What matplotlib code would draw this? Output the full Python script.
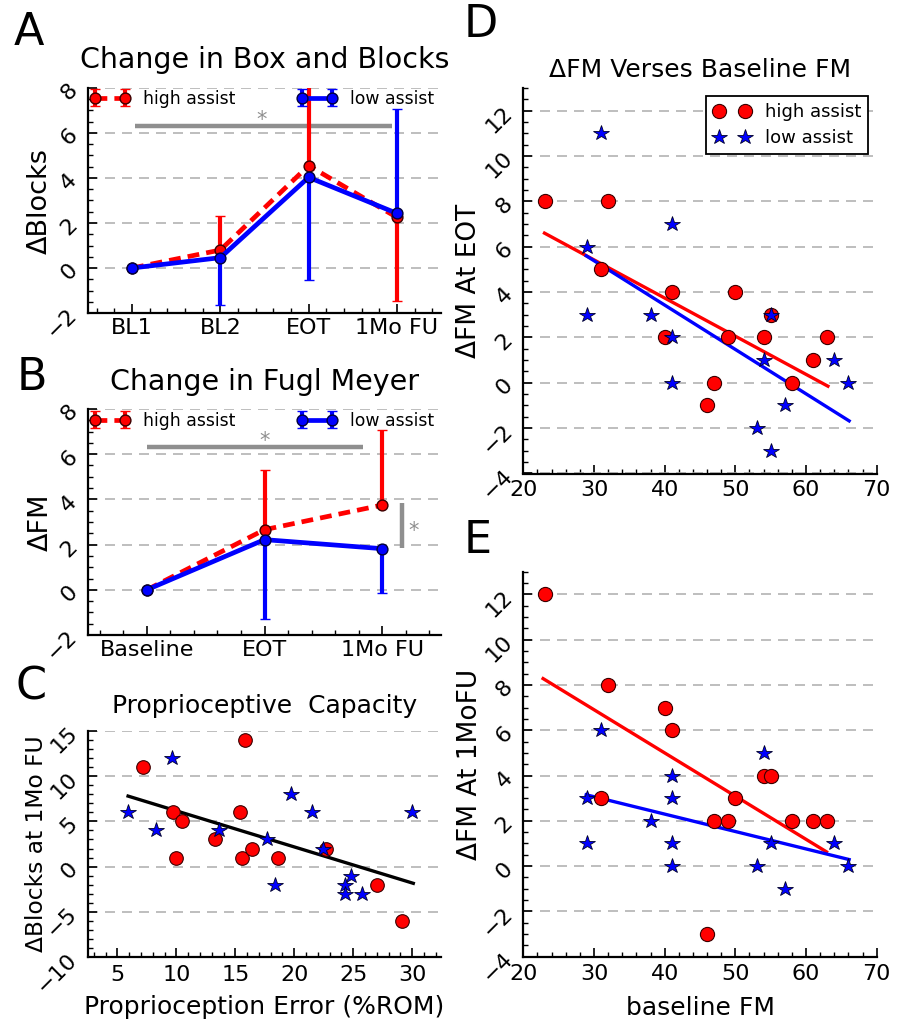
import numpy as np
import matplotlib
matplotlib.use('Agg')
import matplotlib.pyplot as plt
from matplotlib.ticker import MultipleLocator, AutoMinorLocator, FixedLocator

# ---------------- data ----------------
# Panel A: change in Box and Blocks
a_labels = ['BL1', 'BL2', 'EOT', '1Mo FU']
a_high = [0.0, 0.8, 4.55, 2.25]
a_high_err_lo = [0.0, 0.0, 0.0, 3.7]
a_high_err_hi = [0.0, 1.5, 3.6, 0.0]
a_low = [0.0, 0.46, 4.03, 2.43]
a_low_err_lo = [0.0, 2.1, 4.55, 0.0]
a_low_err_hi = [0.0, 0.0, 0.0, 4.65]

# Panel B: change in Fugl Meyer
b_labels = ['Baseline', 'EOT', '1Mo FU']
b_high = [0.0, 2.66, 3.75]
b_high_err_lo = [0.0, 0.0, 0.0]
b_high_err_hi = [0.0, 2.65, 3.34]
b_low = [0.0, 2.22, 1.82]
b_low_err_lo = [0.0, 3.51, 1.96]
b_low_err_hi = [0.0, 0.0, 0.0]

# Panel C: proprioceptive capacity
c_high_x = [7.15, 9.7, 9.97, 10.5, 13.3, 15.4, 15.6, 15.85, 16.4, 18.6, 22.7, 26.98, 29.15]
c_high_y = [11, 6, 1, 5, 3, 6, 1, 14, 2, 1, 2, -2, -6]
c_low_x = [5.93, 8.25, 9.6, 13.6, 17.7, 18.4, 19.7, 21.5, 22.45, 24.3, 24.3, 24.8, 25.75, 30.0]
c_low_y = [6, 4, 12, 4, 3, -2, 8, 6, 2, -2, -3, -1, -3, 6]
c_fit_x = [5.9, 30.1]
c_fit_y = [7.8, -1.85]

# Panel D: delta FM at EOT vs baseline FM
d_high_x = [23, 32, 31, 41, 40, 50, 49, 55, 54, 63, 61, 47, 58, 46]
d_high_y = [8, 8, 5, 4, 2, 4, 2, 3, 2, 2, 1, 0, 0, -1]
d_low_x = [31, 29, 41, 29, 38, 41, 41, 55, 54, 64, 66, 57, 53, 55]
d_low_y = [11, 6, 7, 3, 3, 2, 0, 3, 1, 1, 0, -1, -2, -3]
d_high_fit_x = [23.0, 63.1]
d_high_fit_y = [6.6, -0.15]
d_low_fit_x = [28.9, 66.1]
d_low_fit_y = [5.6, -1.68]

# Panel E: delta FM at 1MoFU vs baseline FM
e_high_x = [23, 32, 31, 40, 41, 50, 47, 49, 54, 55, 58, 61, 63, 46]
e_high_y = [12, 8, 3, 7, 6, 3, 2, 2, 4, 4, 2, 2, 2, -3]
e_low_x = [31, 29, 29, 38, 41, 41, 41, 41, 54, 55, 53, 57, 64, 66]
e_low_y = [6, 3, 1, 2, 4, 3, 1, 0, 5, 1, 0, -1, 1, 0]
e_high_fit_x = [22.8, 62.9]
e_high_fit_y = [8.28, 0.63]
e_low_fit_x = [28.9, 66.1]
e_low_fit_y = [3.15, 0.29]

# ---------------- style ----------------
W, H = 898, 1023
fig = plt.figure(figsize=(W / 100, H / 100), dpi=100)

RED = '#ff0000'
BLUE = '#0000ff'
GRAY = '#8f8f8f'
TICK_FS = 16


def px_axes(left, top, right, bottom):
    return fig.add_axes([left / W, 1 - bottom / H, (right - left) / W, (bottom - top) / H])


def style(ax, xpad=3.5):
    for s in ['top', 'right']:
        ax.spines[s].set_visible(False)
    for s in ['left', 'bottom']:
        ax.spines[s].set_linewidth(1.6)
    ax.tick_params(which='both', direction='in', top=False, right=False)
    ax.tick_params(which='major', length=6.5, width=1.2, labelsize=TICK_FS)
    ax.tick_params(which='minor', length=3.5, width=1.0)
    ax.tick_params(axis='y', labelrotation=45, pad=5)
    ax.tick_params(axis='x', pad=xpad)
    ax.yaxis.grid(True, which='major', color='#b3b3b3', lw=1.2, ls=(0, (6, 4.2)))
    ax.set_axisbelow(True)


def ylabel(ax, text, xpix, fs):
    ax.set_ylabel(text, fontsize=fs, va='center')
    l, b, w, h = ax.get_position().bounds
    ax.yaxis.set_label_coords((xpix / W - l) / w, 0.5)


line_kw = dict(lw=3.4, marker='o', ms=7.8, mew=1.0, elinewidth=3.0,
               capsize=3.4, capthick=1.6)
leg_kw = dict(fontsize=12.4, frameon=False, numpoints=2, handlelength=2.34,
              handletextpad=0.75, borderpad=0, borderaxespad=0)

# ---------------- Panel A ----------------
axA = px_axes(88, 88, 441, 313)
style(axA)
xa = np.arange(1, len(a_labels) + 1)
hA1 = axA.errorbar(xa, a_high, yerr=[a_high_err_lo, a_high_err_hi], color=RED,
                   ls=(0, (2.5, 1.5)), mfc=RED, mec='#3a0000', zorder=3, **line_kw)
hA2 = axA.errorbar(xa, a_low, yerr=[a_low_err_lo, a_low_err_hi], color=BLUE,
                   ls='-', mfc=BLUE, mec='#00003a', zorder=4, **line_kw)
axA.plot([1.03, 3.95], [6.33, 6.33], color=GRAY, lw=3.2, zorder=2.5, solid_capstyle='butt')
axA.text(2.47, 6.33, '*', color=GRAY, fontsize=15, ha='center', va='baseline')
axA.set_xlim(0.5, 4.5)
axA.set_ylim(-2, 8)
axA.set_xticks(xa)
axA.set_xticklabels(a_labels)
axA.xaxis.set_minor_locator(AutoMinorLocator(5))
axA.yaxis.set_major_locator(MultipleLocator(2))
axA.yaxis.set_minor_locator(AutoMinorLocator(4))
axA.set_title('Change in Box and Blocks', fontsize=20.5, pad=14.5)
ylabel(axA, '\u0394Blocks', 40, 19.5)
legA1 = axA.legend([hA1], ['high assist'], loc='center left',
                   bbox_to_anchor=(0.005, 0.952), **leg_kw)
axA.add_artist(legA1)
axA.legend([hA2], ['low assist'], loc='center right',
           bbox_to_anchor=(0.98, 0.952), **leg_kw)

# ---------------- Panel B ----------------
axB = px_axes(88, 409, 441, 635)
style(axB)
xb = np.arange(1, len(b_labels) + 1)
hB1 = axB.errorbar(xb, b_high, yerr=[b_high_err_lo, b_high_err_hi], color=RED,
                   ls=(0, (2.5, 1.5)), mfc=RED, mec='#3a0000', zorder=3, **line_kw)
hB2 = axB.errorbar(xb, b_low, yerr=[b_low_err_lo, b_low_err_hi], color=BLUE,
                   ls='-', mfc=BLUE, mec='#00003a', zorder=4, **line_kw)
axB.plot([1.0, 2.84], [6.3, 6.3], color=GRAY, lw=3.2, zorder=2.5, solid_capstyle='butt')
axB.text(2.0, 6.3, '*', color=GRAY, fontsize=15, ha='center', va='baseline')
axB.plot([3.17, 3.17], [1.85, 3.84], color=GRAY, lw=3.2, zorder=2.5, solid_capstyle='butt')
axB.text(3.27, 2.32, '*', color=GRAY, fontsize=15, ha='center', va='baseline')
axB.set_xlim(0.5, 3.5)
axB.set_ylim(-2, 8)
axB.set_xticks(xb)
axB.set_xticklabels(b_labels)
axB.xaxis.set_minor_locator(AutoMinorLocator(5))
axB.yaxis.set_major_locator(MultipleLocator(2))
axB.yaxis.set_minor_locator(AutoMinorLocator(4))
axB.set_title('Change in Fugl Meyer', fontsize=20.5, pad=13.5)
ylabel(axB, '\u0394FM', 41, 19.5)
legB1 = axB.legend([hB1], ['high assist'], loc='center left',
                   bbox_to_anchor=(0.005, 0.948), **leg_kw)
axB.add_artist(legB1)
axB.legend([hB2], ['low assist'], loc='center right',
           bbox_to_anchor=(0.98, 0.948), **leg_kw)

# ---------------- Panel C ----------------
axC = px_axes(88, 731, 441, 957)
style(axC, xpad=6)
axC.plot(c_fit_x, c_fit_y, color='black', lw=2.4, zorder=2)
axC.plot(c_high_x, c_high_y, 'o', ms=9.8, mfc=RED, mec='#3a0000', mew=0.8, zorder=3)
axC.plot(c_low_x, c_low_y, '*', ms=11.5, mfc=BLUE, mec='#00002a', mew=0.6, zorder=4)
axC.set_xlim(2.5, 32.45)
axC.set_ylim(-10, 15)
axC.xaxis.set_major_locator(MultipleLocator(5))
axC.xaxis.set_minor_locator(AutoMinorLocator(5))
axC.yaxis.set_major_locator(MultipleLocator(5))
axC.yaxis.set_minor_locator(AutoMinorLocator(5))
axC.set_title('Proprioceptive  Capacity', fontsize=18, pad=12.7)
ylabel(axC, '\u0394Blocks at 1Mo FU', 37, 16.8)
axC.set_xlabel('Proprioception Error (%ROM)', fontsize=18, labelpad=7)


def scatter_panel(ax, hx, hy, lx, ly, hfx, hfy, lfx, lfy):
    ax.plot(hfx, hfy, color=RED, lw=2.4, zorder=2)
    ax.plot(lfx, lfy, color=BLUE, lw=2.4, zorder=2)
    ax.plot(hx, hy, 'o', ls='none', ms=10.2, mfc=RED, mec='#3a0000', mew=0.8,
            zorder=3, label='high assist')
    ax.plot(lx, ly, '*', ls='none', ms=11.5, mfc=BLUE, mec='#00002a', mew=0.6,
            zorder=4, label='low assist')
    ax.set_xlim(20, 70)
    ax.set_ylim(-4, 13)
    ax.xaxis.set_major_locator(MultipleLocator(10))
    ax.xaxis.set_minor_locator(AutoMinorLocator(5))
    ax.yaxis.set_major_locator(FixedLocator(np.arange(-4, 13, 2)))
    ax.yaxis.set_minor_locator(FixedLocator(np.arange(-4, 13.01, 0.5)))


# ---------------- Panel D ----------------
axD = px_axes(523.3, 88, 876.7, 473.5)
style(axD, xpad=5)
scatter_panel(axD, d_high_x, d_high_y, d_low_x, d_low_y,
              d_high_fit_x, d_high_fit_y, d_low_fit_x, d_low_fit_y)
axD.set_title('\u0394FM Verses Baseline FM', fontsize=18, pad=7.7)
ylabel(axD, '\u0394FM At EOT', 469, 19)
legD = axD.legend(loc='upper right', bbox_to_anchor=(0.976, 0.98), borderaxespad=0,
                  fontsize=13, numpoints=2, frameon=True, fancybox=False,
                  edgecolor='black', framealpha=1, handlelength=2.04,
                  handletextpad=0.8, borderpad=0.4, labelspacing=0.45)
legD.get_frame().set_linewidth(1.3)

# ---------------- Panel E ----------------
axE = px_axes(523.3, 571.7, 876.7, 956.7)
style(axE, xpad=5)
scatter_panel(axE, e_high_x, e_high_y, e_low_x, e_low_y,
              e_high_fit_x, e_high_fit_y, e_low_fit_x, e_low_fit_y)
ylabel(axE, '\u0394FM At 1MoFU', 470, 19)
axE.set_xlabel('baseline FM', fontsize=18, labelpad=9)

# ---------------- panel letters ----------------
for letter, xp, yp in [('A', 14, 45), ('B', 17, 390), ('C', 16, 699),
                       ('D', 464, 37), ('E', 464, 553)]:
    fig.text(xp / W, 1 - yp / H, letter, fontsize=32, ha='left', va='baseline')

fig.savefig('out.png', dpi=100)
